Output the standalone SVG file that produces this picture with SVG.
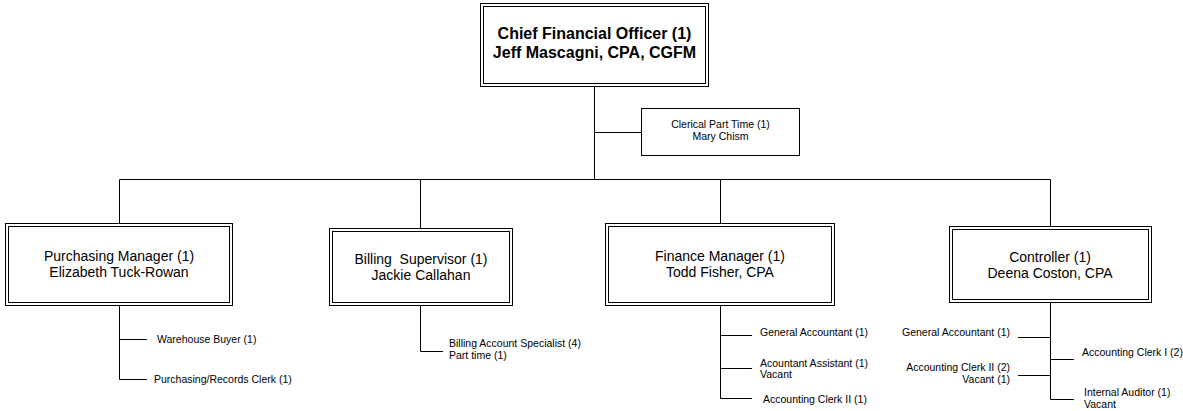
<svg xmlns="http://www.w3.org/2000/svg" width="1183" height="411" viewBox="0 0 1183 411">
  <style>
    .box { fill: #ffffff; stroke: #000000; stroke-width: 1; }
    .line { fill: none; stroke: #000000; stroke-width: 1; }
    text { font-family: "Liberation Sans", Arial, sans-serif; fill: #000000; }
    .title { font-size: 16px; font-weight: bold; text-anchor: middle; }
    .mgr { font-size: 14px; text-anchor: middle; }
    .small { font-size: 10.5px; }
    .mid { text-anchor: middle; }
    .end { text-anchor: end; }
  </style>
  <rect width="1183" height="411" fill="#ffffff"/>

  <!-- connectors -->
  <g id="connectors" class="line">
    <path d="M594.5 86 V179.5"/>
    <path d="M594.5 132.5 H641"/>
    <path d="M119.5 179.5 H1050.5"/>
    <path d="M119.5 179.5 V223"/>
    <path d="M420.5 179.5 V228"/>
    <path d="M720.5 179.5 V223"/>
    <path d="M1050.5 179.5 V226"/>
    <!-- purchasing staff -->
    <path d="M119.5 305 V379.5 H147"/>
    <path d="M119.5 339.5 H147"/>
    <!-- billing staff -->
    <path d="M420.5 305 V351.5 H443"/>
    <!-- finance staff -->
    <path d="M720.5 305 V398.5 H752"/>
    <path d="M720.5 335.5 H752"/>
    <path d="M720.5 368.5 H752"/>
    <!-- controller staff -->
    <path d="M1050.5 302 V399.5 H1074"/>
    <path d="M1018 337.5 H1050.5"/>
    <path d="M1018 375.5 H1050.5"/>
    <path d="M1050.5 359.5 H1074"/>
  </g>

  <g id="cfo">
    <rect class="box" x="480.5" y="3.5" width="228" height="83"/>
    <rect class="box" x="483.5" y="6.5" width="222" height="77"/>
    <text class="title" x="594.5" y="39">Chief Financial Officer (1)</text>
    <text class="title" x="594.5" y="58">Jeff Mascagni, CPA, CGFM</text>
  </g>

  <g id="clerical">
    <rect class="box" x="641.5" y="108.5" width="158" height="47"/>
    <text class="small mid" x="720.5" y="128">Clerical Part Time (1)</text>
    <text class="small mid" x="720.5" y="140">Mary Chism</text>
  </g>

  <g id="purchasing">
    <rect class="box" x="5.5" y="223.5" width="227" height="82"/>
    <rect class="box" x="8.5" y="226.5" width="221" height="76"/>
    <text class="mgr" x="119" y="261">Purchasing Manager (1)</text>
    <text class="mgr" x="119" y="277">Elizabeth Tuck-Rowan</text>
  </g>

  <g id="billing">
    <rect class="box" x="329.5" y="228.5" width="183" height="77"/>
    <rect class="box" x="332.5" y="231.5" width="177" height="71"/>
    <text class="mgr" x="421" y="264" xml:space="preserve">Billing  Supervisor (1)</text>
    <text class="mgr" x="421" y="280">Jackie Callahan</text>
  </g>

  <g id="finance">
    <rect class="box" x="605.5" y="223.5" width="229" height="82"/>
    <rect class="box" x="608.5" y="226.5" width="223" height="76"/>
    <text class="mgr" x="720" y="261">Finance Manager (1)</text>
    <text class="mgr" x="720" y="277">Todd Fisher, CPA</text>
  </g>

  <g id="controller">
    <rect class="box" x="949.5" y="226.5" width="202" height="76"/>
    <rect class="box" x="952.5" y="229.5" width="196" height="70"/>
    <text class="mgr" x="1050" y="262">Controller (1)</text>
    <text class="mgr" x="1050" y="278">Deena Coston, CPA</text>
  </g>

  <g id="purchasing-staff">
    <text class="small" x="157" y="343">Warehouse Buyer (1)</text>
    <text class="small" x="154" y="383">Purchasing/Records Clerk (1)</text>
  </g>

  <g id="billing-staff">
    <text class="small" x="449" y="347">Billing Account Specialist (4)</text>
    <text class="small" x="449" y="359">Part time (1)</text>
  </g>

  <g id="finance-staff">
    <text class="small" x="760" y="336">General Accountant (1)</text>
    <text class="small" x="760" y="367">Acountant Assistant (1)</text>
    <text class="small" x="760" y="378">Vacant</text>
    <text class="small" x="763" y="403">Accounting Clerk II (1)</text>
  </g>

  <g id="controller-staff">
    <text class="small end" x="1010" y="336">General Accountant (1)</text>
    <text class="small end" x="1010" y="371">Accounting Clerk II (2)</text>
    <text class="small end" x="1010" y="383">Vacant (1)</text>
    <text class="small" x="1082" y="356">Accounting Clerk I (2)</text>
    <text class="small" x="1084" y="396">Internal Auditor (1)</text>
    <text class="small" x="1084" y="408">Vacant</text>
  </g>
</svg>
